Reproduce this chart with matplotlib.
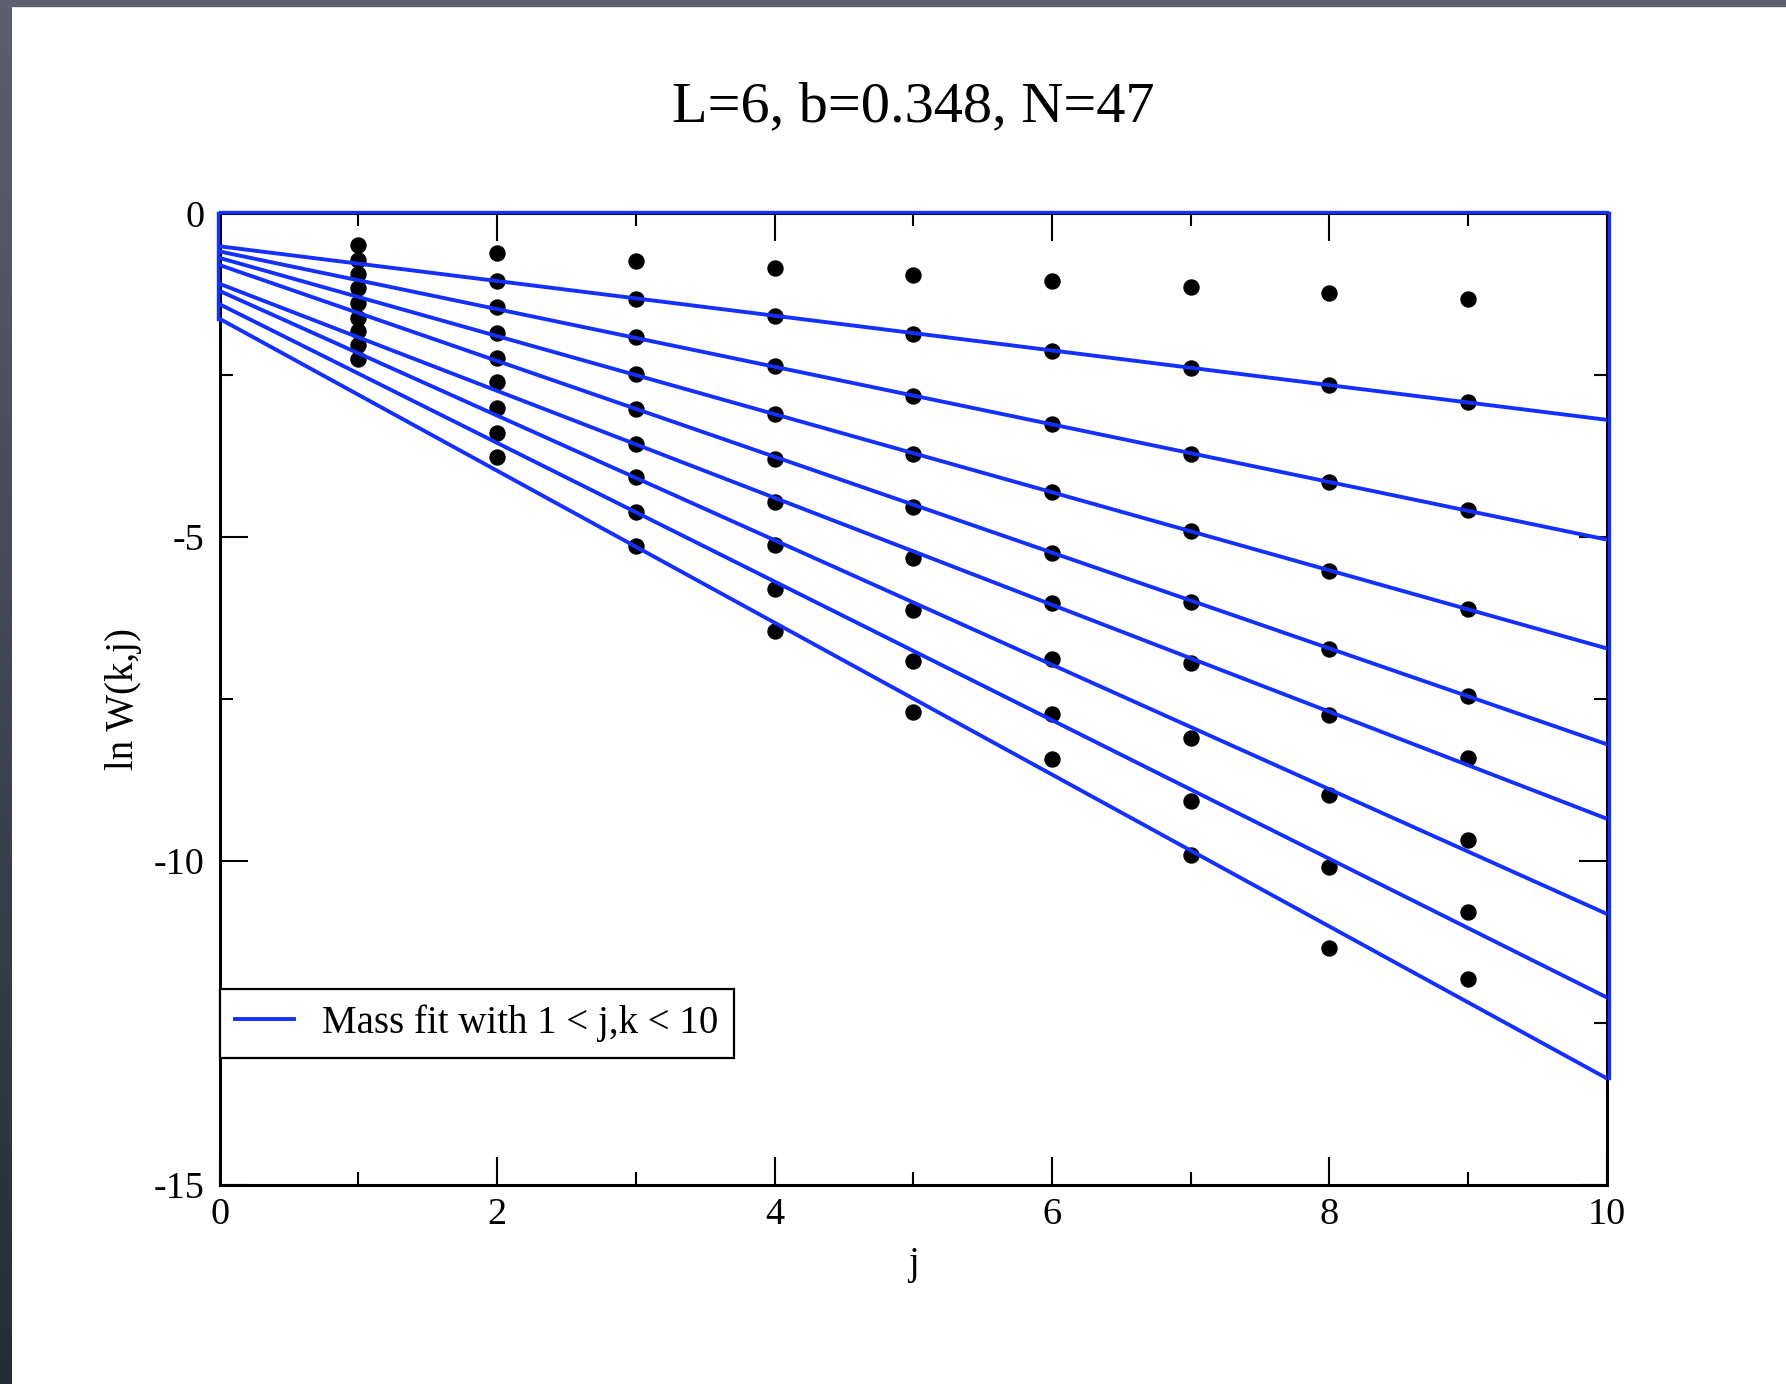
import numpy as np
import matplotlib
matplotlib.use('Agg')
import matplotlib.pyplot as plt
import matplotlib.transforms as mtransforms
from matplotlib.patches import Rectangle
from matplotlib.ticker import MultipleLocator
from matplotlib.colors import LinearSegmentedColormap

plt.rcParams['font.family'] = ['Liberation Serif', 'DejaVu Serif']
plt.rcParams['axes.unicode_minus'] = False

# ---------- datos: ln W(k,j) para k = 1..9 ----------
j_vals = [1, 2, 3, 4, 5, 6, 7, 8, 9]
lnW_k1 = [-0.49, -0.62, -0.74, -0.84, -0.95, -1.04, -1.14, -1.23, -1.33]
lnW_k2 = [-0.72, -1.04, -1.32, -1.59, -1.87, -2.13, -2.39, -2.65, -2.92]
lnW_k3 = [-0.94, -1.45, -1.91, -2.36, -2.82, -3.26, -3.71, -4.15, -4.59]
lnW_k4 = [-1.16, -1.85, -2.48, -3.10, -3.71, -4.31, -4.91, -5.52, -6.11]
lnW_k5 = [-1.38, -2.24, -3.03, -3.79, -4.54, -5.25, -6.00, -6.73, -7.45]
lnW_k6 = [-1.61, -2.61, -3.56, -4.46, -5.33, -6.02, -6.94, -7.75, -8.41]
lnW_k7 = [-1.82, -3.00, -4.08, -5.12, -6.13, -6.88, -8.10, -8.98, -9.68]
lnW_k8 = [-2.03, -3.39, -4.61, -5.80, -6.92, -7.74, -9.07, -10.09, -10.79]
lnW_k9 = [-2.25, -3.76, -5.14, -6.45, -7.70, -8.43, -9.91, -11.34, -11.83]
lnW_rows = [lnW_k1, lnW_k2, lnW_k3, lnW_k4, lnW_k5, lnW_k6, lnW_k7, lnW_k8, lnW_k9]

# rectas del ajuste de masa (valor en j=0 y en j=10)
fit_j = [0, 10]
fit_start = [-0.51, -0.59, -0.69, -0.80, -1.09, -1.20, -1.405, -1.63]
fit_end = [-3.19, -5.04, -6.72, -8.20, -9.35, -10.82, -12.11, -13.36]

title_text = 'L=6, b=0.348, N=47'
legend_text = 'Mass fit with 1 < j,k < 10'
BLUE = '#1430ff'

fig = plt.figure(figsize=(17.86, 13.84), dpi=100, facecolor='white')

# borde gris oscuro (arriba y a la izquierda)
strip = fig.add_axes([0, 0, 12 / 1786, 1])
strip.imshow(np.linspace(0, 1, 256)[:, None], aspect='auto',
             cmap=LinearSegmentedColormap.from_list('borde', ['#5d606c', '#252b39']))
strip.axis('off')
fig.patches.append(Rectangle((0, 1 - 6 / 1384), 1, 6 / 1384, transform=fig.transFigure,
                             color='#5e616d', zorder=0))

ax = fig.add_axes([0.1230, 0.1441, 0.7767, 0.7018])

# puntos
for row in lnW_rows:
    ax.plot(j_vals, row, 'o', color='black', markersize=10.8, zorder=3)

# rectas de ajuste
for i, (a, b) in enumerate(zip(fit_start, fit_end)):
    ax.plot(fit_j, [a, b], color=BLUE, lw=2.8, zorder=4,
            label=legend_text if i == 0 else None)

# el conjunto de ajuste recorre también el marco (arriba, izquierda y derecha)
off = 1.2 / 72
tr_left = ax.transData + mtransforms.ScaledTranslation(-off, 0, fig.dpi_scale_trans)
tr_top = ax.transData + mtransforms.ScaledTranslation(0, off, fig.dpi_scale_trans)
tr_right = ax.transData + mtransforms.ScaledTranslation(off, 0, fig.dpi_scale_trans)
ax.plot([fit_j[0], fit_j[0]], [fit_start[-1], 0], color=BLUE, lw=2.4, transform=tr_left,
        clip_on=False, zorder=5)
ax.plot([fit_j[0], fit_j[1]], [0, 0], color=BLUE, lw=2.4, transform=tr_top,
        clip_on=False, zorder=5)
ax.plot([fit_j[1], fit_j[1]], [0, fit_end[-1]], color=BLUE, lw=2.4, transform=tr_right,
        clip_on=False, zorder=5)

ax.set_xlim(0, 10)
ax.set_ylim(-15, 0)
ax.xaxis.set_major_locator(MultipleLocator(2))
ax.xaxis.set_minor_locator(MultipleLocator(1))
ax.yaxis.set_major_locator(MultipleLocator(5))
ax.yaxis.set_minor_locator(MultipleLocator(2.5))
ax.tick_params(which='both', direction='in', top=True, right=True, width=1.5,
               color='black', labelsize=27.5)
ax.tick_params(which='major', length=20)
ax.tick_params(which='minor', length=9.7)
ax.tick_params(axis='x', pad=9.3)
ax.tick_params(axis='y', pad=10.8)
for sp in ax.spines.values():
    sp.set_linewidth(2.2)
    sp.set_color('black')

ax.set_xlabel('j', fontsize=28)
ax.xaxis.set_label_coords(0.5, -0.063)
ax.set_ylabel('ln W(k,j)', fontsize=28)
ax.yaxis.label.set_va('center')
ax.yaxis.set_label_coords(-0.0695, 0.5)

fig.text(913 / 1786, 0.9121, title_text, ha='center', va='baseline', fontsize=42)

leg = ax.legend(loc='upper left', bbox_to_anchor=(0.0, 0.2014), borderaxespad=0,
                fancybox=False, edgecolor='black', framealpha=1, fontsize=28,
                handlelength=1.5, handletextpad=0.73, borderpad=0.4)
leg.get_frame().set_linewidth(1.6)

fig.savefig('out.png', dpi=100, facecolor='white')
